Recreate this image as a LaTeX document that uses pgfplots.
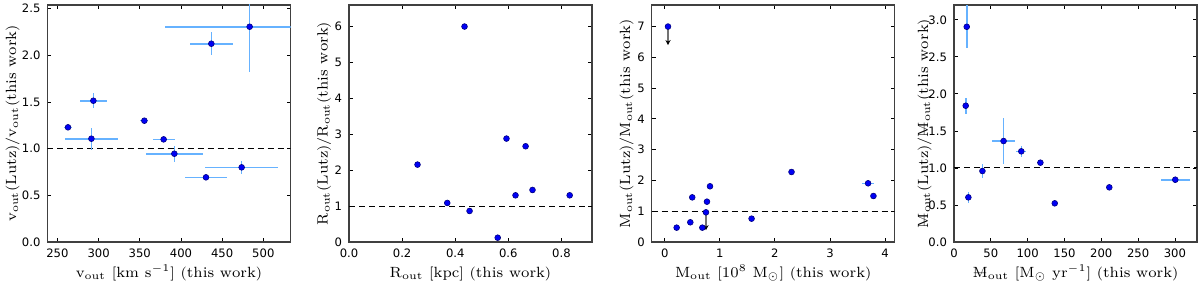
\documentclass[border=0pt]{standalone}
\usepackage{pgfplots}
\pgfplotsset{compat=1.18}
\usepackage{fontspec}
\newfontfamily\tickfont{DejaVu Sans}
\usetikzlibrary{arrows.meta}
\definecolor{errc}{RGB}{102,178,255}
\definecolor{markc}{RGB}{0,0,245}

\pgfplotsset{
 panel/.style={
  scale only axis, width=121.5pt, height=118.5pt,
  anchor=south west,
  tick align=inside, major tick length=2pt,
  tick style={black, line width=0.4pt},
  axis line style={black!75, line width=0.6pt},
  tick label style={font=\tickfont\fontsize{5.8}{7}\selectfont},
  /pgf/number format/assume math mode=true,
  label style={font=\fontsize{7.4}{9}\selectfont},
  xlabel style={at={([yshift=-17.8pt]axis description cs:0.5,0)}, anchor=base},
 },
 pts/.style={only marks, mark=*, mark size=1.45pt,
   mark options={fill=markc, draw=black!50!blue, line width=0.3pt}},
 errs/.style={pts,
   error bars/.cd, x dir=both, x explicit, y dir=both, y explicit,
   error mark=none, error bar style={errc, line width=0.8pt}},
 unity/.style={black, dash pattern=on 3pt off 2pt, line width=0.55pt},
}

\pgfplotstableread{
x y ex ey
262.9 1.229 5 0.02
291.3 1.107 32 0.12
293.7 1.514 16 0.08
355.6 1.300 5 0.02
379.0 1.100 13.5 0.03
392.0 0.946 35 0.086
436.9 2.125 26 0.125
483.4 2.307 103 0.49
430.4 0.693 26 0.02
473.7 0.800 44 0.07
}\tvout

\pgfplotstableread{
x y
0.258 2.155
0.370 1.087
0.435 6.000
0.454 0.864
0.560 0.120
0.593 2.880
0.627 1.300
0.665 2.666
0.691 1.449
0.831 1.300
}\trout

\pgfplotstableread{
x y ex ey
0.060 7.000 0 0
0.217 0.466 0 0
0.465 0.640 0 0
0.500 1.450 0 0
0.683 0.466 0 0
0.749 0.964 0 0
0.767 1.310 0 0
0.822 1.810 0 0
1.577 0.758 0 0
2.302 2.275 0 0
3.692 1.907 0.11 0
3.789 1.495 0 0
}\tmout

\pgfplotstableread{
x y v
0.060 7.000 -0.60
0.749 0.964 -0.58
}\tmlim

\pgfplotstableread{
x y ex ey
17.3 2.906 0 0.29
15.9 1.840 0 0.11
19.5 0.603 2 0.075
38.6 0.958 3 0.095
67.3 1.363 15.7 0.31
91.4 1.224 7 0.077
117.3 1.071 4 0.03
136.8 0.522 0 0
210.9 0.738 0 0
300.5 0.841 20 0.04
}\tmdot

\begin{document}
\begin{tikzpicture}
\path[use as bounding box] (0,0) rectangle (600pt,141pt);

% Panel 1
\begin{axis}[panel, at={(23.75pt,20pt)},
  xmin=238, xmax=533, ymin=0, ymax=2.54,
  xtick={250,300,350,400,450,500},
  ytick={0,0.5,1,1.5,2,2.5},
  yticklabel style={/pgf/number format/.cd, fixed, fixed zerofill, precision=1},
  ylabel style={at={([xshift=-15.65pt]axis description cs:0,0.5)}, anchor=base},
  xlabel={$\mathrm{v_{out}\ [km\ s^{-1}]\ (this\ work)}$},
  ylabel={$\mathrm{v_{out}(Lutz)/v_{out}(this\ work)}$}]
\addplot[unity] coordinates {(238,1) (533,1)};
\addplot[errs] table[x=x, y=y, x error=ex, y error=ey] {\tvout};
\end{axis}

% Panel 2
\begin{axis}[panel, at={(174.5pt,20pt)},
  xmin=0, xmax=0.915, ymin=0, ymax=6.6,
  xtick={0,0.2,0.4,0.6,0.8},
  ytick={0,1,2,3,4,5,6},
  xticklabel style={/pgf/number format/.cd, fixed, fixed zerofill, precision=1},
  ylabel style={at={([xshift=-10.65pt]axis description cs:0,0.5)}, anchor=base},
  xlabel={$\mathrm{R_{out}\ [kpc]\ (this\ work)}$},
  ylabel={$\mathrm{R_{out}(Lutz)/R_{out}(this\ work)}$}]
\addplot[unity] coordinates {(0,1) (0.915,1)};
\addplot[pts] table[x=x, y=y] {\trout};
\end{axis}

% Panel 3
\begin{axis}[panel, at={(325.85pt,20pt)},
  xmin=-0.236, xmax=4.175, ymin=0, ymax=7.7,
  xtick={0,1,2,3,4},
  ytick={0,1,2,3,4,5,6,7},
  ylabel style={at={([xshift=-10.75pt]axis description cs:0,0.5)}, anchor=base},
  xlabel={$\mathrm{M_{out}\ [10^{8}\ M_{\odot}]\ (this\ work)}$},
  ylabel={$\mathrm{M_{out}(Lutz)/M_{out}(this\ work)}$}]
\addplot[unity] coordinates {(-0.236,1) (4.175,1)};
\addplot[quiver={u=0, v=\thisrow{v}}, draw=black!55, line width=0.6pt,
  -{Stealth[length=2.5pt, width=2.6pt, color=black]}] table[x=x, y=y] {\tmlim};
\addplot[errs] table[x=x, y=y, x error=ex, y error=ey] {\tmout};
\end{axis}

% Panel 4
\begin{axis}[panel, at={(477pt,20pt)},
  xmin=0, xmax=330, ymin=0, ymax=3.2,
  xtick={0,50,100,150,200,250,300},
  ytick={0,0.5,1,1.5,2,2.5,3},
  yticklabel style={/pgf/number format/.cd, fixed, fixed zerofill, precision=1},
  ylabel style={at={([xshift=-12.9pt]axis description cs:0,0.5)}, anchor=base},
  xlabel={$\mathrm{\dot{M}_{out}\ [M_{\odot}\ yr^{-1}]\ (this\ work)}$},
  ylabel={$\mathrm{\dot{M}_{out}(Lutz)/\dot{M}_{out}(this\ work)}$}]
\addplot[unity] coordinates {(0,1) (330,1)};
\addplot[errs] table[x=x, y=y, x error=ex, y error=ey] {\tmdot};
\end{axis}
\end{tikzpicture}
\end{document}
